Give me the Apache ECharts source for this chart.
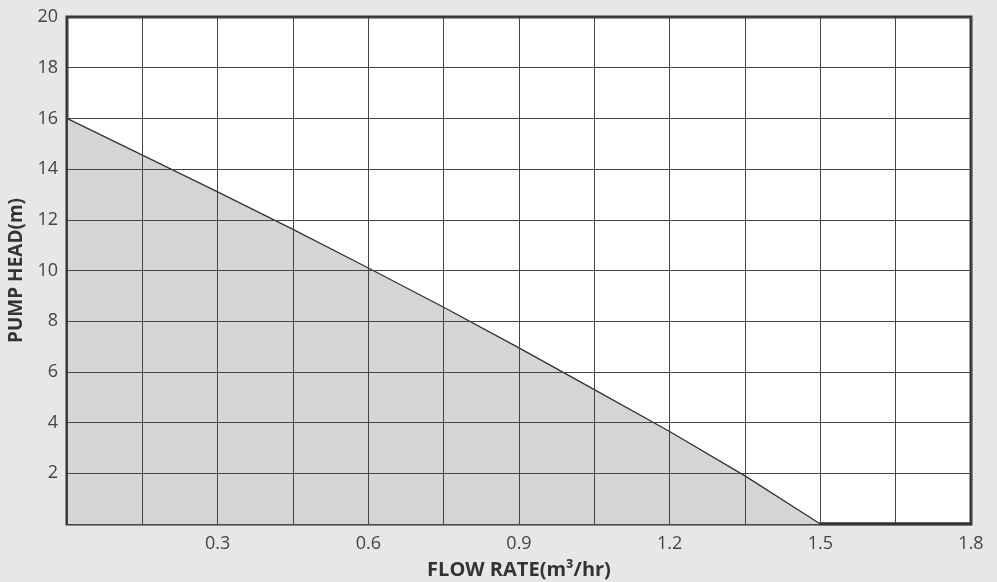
<!DOCTYPE html>
<html>
<head>
	<meta charset="utf-8" />
	<title>Pump curve</title>
	<style>
		* { margin: 0; padding: 0; }
		body { background: #e6e7e9; }
		#main { width: 997px; height: 582px; }
	</style>
</head>
<body>
	<div id="main"></div>
	<script src="https://cdn.jsdelivr.net/npm/echarts@6/dist/echarts.min.js"></script>
	<script>
		// 流量 (m3/hr) 與揚程 (m)
		var flowRate = [0, 0.15, 0.3, 0.45, 0.6, 0.75, 0.9, 1.05, 1.2, 1.35, 1.5, 1.65, 1.8];
		var pumpHead = [16, 14.55, 13.1, 11.62, 10.1, 8.55, 6.95, 5.3, 3.65, 1.9, 0, 0, 0];

		var xName = 'FLOW RATE(m³/hr)';
		var yName = 'PUMP HEAD(m)';

		var points = flowRate.map(function (x, i) { return [x, pumpHead[i]]; });

		var chart = echarts.init(document.getElementById('main'));
		var font = 'Open Sans';
		chart.setOption({
			backgroundColor: '#e6e7e9',
			animation: false,
			grid: {
				left: 67, right: 26, top: 17, bottom: 58,
				outerBoundsMode: 'none',
				containLabel: false,
				show: true,
				backgroundColor: '#fff',
				borderColor: '#333',
				borderWidth: 3
			},
			xAxis: {
				type: 'value',
				min: 0, max: 1.8, interval: 0.15,
				z: 5,
				name: xName,
				nameLocation: 'middle',
				nameGap: 36,
				nameTextStyle: { fontFamily: font, fontWeight: 'bold', fontSize: 20, color: '#333' },
				axisLine: { show: false },
				axisTick: { show: false },
				axisLabel: {
					margin: 11,
					fontFamily: font, fontSize: 18, color: '#444',
					formatter: function (v) {
						var k = Math.round(v / 0.15);
						if (k === 0 || k % 2 !== 0) return '';
						return (k * 0.15).toFixed(1);
					}
				},
				splitLine: { lineStyle: { color: '#444', width: 1 } }
			},
			yAxis: {
				type: 'value',
				min: 0, max: 20, interval: 2,
				z: 5,
				name: yName,
				nameLocation: 'middle',
				nameGap: 41,
				nameTextStyle: { fontFamily: font, fontWeight: 'bold', fontSize: 19, color: '#333' },
				axisLine: { show: false },
				axisTick: { show: false },
				axisLabel: {
					margin: 9,
					fontFamily: font, fontSize: 18, color: '#444',
					formatter: function (v) { return v === 0 ? '' : String(v); }
				},
				splitLine: { lineStyle: { color: '#444', width: 1 } }
			},
			series: [{
				type: 'line',
				data: points,
				symbol: 'none',
				z: 2,
				lineStyle: { color: '#333', width: 1.3 },
				areaStyle: { color: '#d4d5d7', opacity: 1 }
			}, {
				// 1.5 之後沿底部的粗線
				type: 'line',
				data: points.slice(10),
				symbol: 'none',
				z: 6,
				lineStyle: { color: '#333', width: 3 }
			}]
		});
	</script>
</body>
</html>
